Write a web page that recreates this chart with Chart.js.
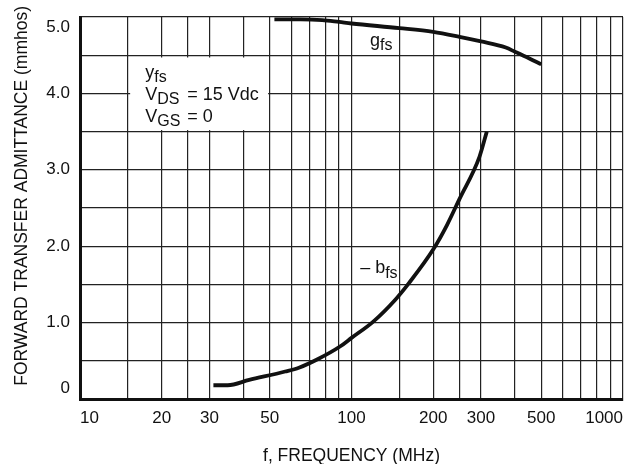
<!DOCTYPE html>
<html>
<head>
<meta charset="utf-8">
<script src="https://cdn.jsdelivr.net/npm/chart.js@4.4.0/dist/chart.umd.min.js"></script>
<style>
  html, body { margin: 0; padding: 0; background: #fff; }
  #wrap { width: 631px; height: 464px; }
</style>
</head>
<body>
<div id="wrap"><canvas id="chart"></canvas></div>
<script>
// Forward transfer admittance vs frequency

// x grid (MHz) and the ones that carry a label
const gridFreqs = [10, 15, 20, 25, 30, 40, 50, 60, 70, 80, 90, 100, 150, 200, 250, 300, 400, 500, 600, 700, 800, 900, 1000];
const labeledFreqs = [10, 20, 30, 50, 100, 200, 300, 500, 1000];
const yTickLabels = ['0', '1.0', '2.0', '3.0', '4.0', '5.0'];

// g_fs
const gfsFreq = [52, 65, 78, 90, 100, 150, 200, 250, 300, 370, 400, 450, 500];
const gfsValue = [4.97, 4.97, 4.96, 4.935, 4.915, 4.855, 4.805, 4.74, 4.68, 4.6, 4.545, 4.46, 4.38];

// -b_fs
const bfsFreq = [31, 35, 42, 57, 64, 75, 91, 100, 120, 145, 163, 201, 225, 250, 296, 315];
const bfsValue = [0.18, 0.18, 0.25, 0.36, 0.41, 0.52, 0.69, 0.80, 1.01, 1.30, 1.52, 1.97, 2.28, 2.62, 3.17, 3.50];

const FONT = "'Liberation Sans', Arial, sans-serif";
const INK = '#111';

function toPoints(xs, ys) {
    return xs.map((x, i) => ({ x: x, y: ys[i] }));
}

// draws a run of text pieces, each [text, size, dy]
function drawRun(ctx, x, y, parts) {
    parts.forEach(p => {
        ctx.font = p[1] + 'px ' + FONT;
        ctx.fillText(p[0], x, y + p[2]);
        x += ctx.measureText(p[0]).width;
    });
}

// y labels: the end ones sit inside the plot (two-line trick nudges them)
function yLabel(v) {
    if (!Number.isInteger(v)) return '';
    if (v === 0) return [yTickLabels[0], ''];
    if (v === 5) return ['', yTickLabels[5]];
    return yTickLabels[v];
}

const notes = {
    id: 'notes',
    beforeDatasetsDraw(chart) {
        const ctx = chart.ctx;
        const X = v => chart.scales.x.getPixelForValue(v);
        const Y = v => chart.scales.y.getPixelForValue(v);
        ctx.save();
        // white box behind the conditions text
        ctx.fillStyle = '#fff';
        ctx.fillRect(X(15.3), Y(4.47), X(49.3) - X(15.3), Y(3.52) - Y(4.47));
        ctx.fillStyle = INK;
        ctx.textBaseline = 'alphabetic';
        ctx.textAlign = 'left';
        const left = X(17.4);
        drawRun(ctx, left, Y(4.2), [['y', 18, 0], ['fs', 16, 4]]);
        drawRun(ctx, left, Y(3.912), [['V', 18, 0], ['DS', 16, 4]]);
        drawRun(ctx, left + 42, Y(3.912), [['= 15 Vdc', 18, 0]]);
        drawRun(ctx, left, Y(3.626), [['V', 18, 0], ['GS', 16, 4]]);
        drawRun(ctx, left + 42, Y(3.626), [['= 0', 18, 0]]);
        ctx.restore();
    },
    afterDatasetsDraw(chart) {
        const ctx = chart.ctx;
        const X = v => chart.scales.x.getPixelForValue(v);
        const Y = v => chart.scales.y.getPixelForValue(v);
        ctx.save();
        ctx.fillStyle = INK;
        ctx.textBaseline = 'alphabetic';
        ctx.textAlign = 'left';
        drawRun(ctx, X(117), Y(4.617), [['g', 18, 0], ['fs', 16, 4]]);
        drawRun(ctx, X(107.6), Y(1.651), [['\u2013 b', 18, 0], ['fs', 16, 5]]);
        ctx.restore();
    }
};

const lineStyle = {
    borderColor: INK,
    borderWidth: 3.8,
    pointRadius: 0,
    fill: false,
    cubicInterpolationMode: 'monotone'
};

new Chart(document.getElementById('chart'), {
    type: 'line',
    data: {
        datasets: [
            Object.assign({ label: 'gfs', data: toPoints(gfsFreq, gfsValue) }, lineStyle),
            Object.assign({ label: '-bfs', data: toPoints(bfsFreq, bfsValue) }, lineStyle)
        ]
    },
    options: {
        responsive: true,
        maintainAspectRatio: false,
        animation: false,
        layout: { padding: { top: 17, right: 8, left: 0, bottom: 0 } },
        plugins: {
            legend: { display: false },
            tooltip: { enabled: false }
        },
        scales: {
            x: {
                type: 'logarithmic',
                min: 10,
                max: 1000,
                afterBuildTicks: s => { s.ticks = gridFreqs.map(v => ({ value: v })); },
                afterFit: s => {
                    s.height = 65;
                    s.paddingLeft = 0;
                    s.paddingRight = 0;
                },
                ticks: {
                    autoSkip: false,
                    maxRotation: 0,
                    align: 'inner',
                    padding: 9,
                    color: INK,
                    font: { family: FONT, size: 17 },
                    callback: v => labeledFreqs.includes(v) ? String(v) : ''
                },
                grid: { color: '#222', lineWidth: 1.2, drawTicks: false },
                border: { color: INK, width: 3 },
                title: {
                    display: true,
                    text: 'f, FREQUENCY (MHz)',
                    color: INK,
                    font: { family: FONT, size: 17.5 },
                    padding: { top: 0, bottom: -3 }
                }
            },
            y: {
                min: 0,
                max: 5,
                afterFit: s => {
                    s.width = 80;
                    s.paddingTop = 0;
                    s.paddingBottom = 0;
                },
                ticks: {
                    stepSize: 0.5,
                    autoSkip: false,
                    padding: 10,
                    color: INK,
                    font: { family: FONT, size: 17 },
                    callback: yLabel
                },
                grid: { color: '#222', lineWidth: 1.2, drawTicks: false },
                border: { color: INK, width: 3 },
                title: {
                    display: true,
                    text: '     FORWARD TRANSFER ADMITTANCE (mmhos)',
                    color: INK,
                    font: { family: FONT, size: 17.5 },
                    padding: { top: 12, bottom: 0 }
                }
            }
        }
    },
    plugins: [notes]
});
</script>
</body>
</html>
